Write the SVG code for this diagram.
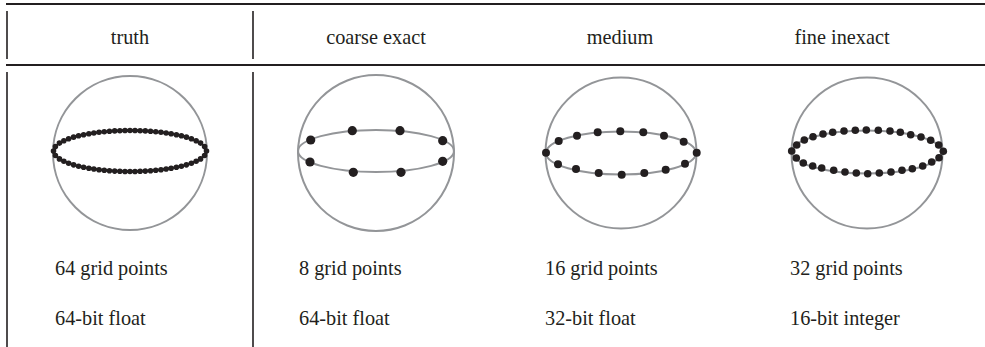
<svg xmlns="http://www.w3.org/2000/svg" width="985" height="347" viewBox="0 0 985 347">
<style>
.rule{stroke:#231f20;stroke-width:2.2;fill:none}
.vr{stroke:#231f20;stroke-width:1.6;fill:none}
.sph{fill:none;stroke:#939598;stroke-width:2}
.eq{fill:none;stroke:#939598;stroke-width:2}
.lbl{font-family:"Liberation Serif","Times New Roman",serif;font-size:20.3px;fill:#231f20}
.hd{text-anchor:middle}
.dot{fill:#231f20}
</style>
<rect width="985" height="347" fill="#ffffff"/>
<g id="table-lines">
<line class="rule" x1="6" y1="4" x2="985" y2="4"/>
<line class="rule" x1="6" y1="65" x2="985" y2="65"/>
<line class="vr" x1="7" y1="11" x2="7" y2="59"/>
<line class="vr" x1="7" y1="72" x2="7" y2="347"/>
<line class="vr" x1="253" y1="11" x2="253" y2="59"/>
<line class="vr" x1="253" y1="72" x2="253" y2="347"/>
</g>
<g id="headers">
<text class="lbl hd" x="130" y="44">truth</text>
<text class="lbl hd" x="376" y="44">coarse exact</text>
<text class="lbl hd" x="620" y="44">medium</text>
<text class="lbl hd" x="842" y="44">fine inexact</text>
</g>
<g id="truth">
<circle class="sph" cx="130" cy="153" r="77"/>
<ellipse cx="130" cy="151" rx="76.5" ry="20.5" fill="none" stroke="#231f20" stroke-width="5.6" stroke-linecap="round" pathLength="64" stroke-dasharray="0 1"/>
<text class="lbl" x="55" y="275">64 grid points</text>
<text class="lbl" x="55" y="325">64-bit float</text>
</g>
<g id="coarse-exact">
<circle class="sph" cx="376" cy="153" r="78"/>
<ellipse class="eq" cx="376" cy="151" rx="78" ry="21"/>
<circle class="dot" cx="310.7" cy="140" r="4.6"/>
<circle class="dot" cx="352.3" cy="130.7" r="4.6"/>
<circle class="dot" cx="400" cy="130.7" r="4.6"/>
<circle class="dot" cx="442.7" cy="140.7" r="4.6"/>
<circle class="dot" cx="310" cy="162" r="4.6"/>
<circle class="dot" cx="353.3" cy="172.3" r="4.6"/>
<circle class="dot" cx="401" cy="172.3" r="4.6"/>
<circle class="dot" cx="442.7" cy="161.3" r="4.6"/>
<text class="lbl" x="299" y="275">8 grid points</text>
<text class="lbl" x="299" y="325">64-bit float</text>
</g>
<g id="medium">
<circle class="sph" cx="621" cy="153" r="75.5"/>
<ellipse class="eq" cx="621" cy="153" rx="75" ry="21.5"/>
<circle class="dot" cx="546" cy="152.7" r="4"/>
<circle class="dot" cx="558.7" cy="141" r="4"/>
<circle class="dot" cx="577" cy="135.7" r="4"/>
<circle class="dot" cx="597.7" cy="132.3" r="4"/>
<circle class="dot" cx="620.3" cy="131.3" r="4"/>
<circle class="dot" cx="643.3" cy="132.3" r="4"/>
<circle class="dot" cx="664" cy="135.7" r="4"/>
<circle class="dot" cx="683.7" cy="141.7" r="4"/>
<circle class="dot" cx="696.7" cy="152.7" r="4"/>
<circle class="dot" cx="685" cy="163.7" r="4"/>
<circle class="dot" cx="665.7" cy="169.7" r="4"/>
<circle class="dot" cx="644.3" cy="173" r="4"/>
<circle class="dot" cx="621.7" cy="174.7" r="4"/>
<circle class="dot" cx="598.7" cy="173" r="4"/>
<circle class="dot" cx="576" cy="169" r="4"/>
<circle class="dot" cx="558" cy="164.3" r="4"/>
<text class="lbl" x="545" y="275">16 grid points</text>
<text class="lbl" x="545" y="325">32-bit float</text>
</g>
<g id="fine-inexact">
<circle class="sph" cx="867" cy="153" r="75.5"/>
<ellipse class="eq" cx="867" cy="152" rx="75" ry="21.5"/>
<circle class="dot" cx="791.7" cy="151" r="3.8"/>
<circle class="dot" cx="796.7" cy="145" r="3.8"/>
<circle class="dot" cx="804.3" cy="140" r="3.8"/>
<circle class="dot" cx="813" cy="136.7" r="3.8"/>
<circle class="dot" cx="823" cy="134" r="3.8"/>
<circle class="dot" cx="832.7" cy="132.3" r="3.8"/>
<circle class="dot" cx="844" cy="131" r="3.8"/>
<circle class="dot" cx="855.3" cy="130.3" r="3.8"/>
<circle class="dot" cx="866.3" cy="130" r="3.8"/>
<circle class="dot" cx="878.3" cy="130.3" r="3.8"/>
<circle class="dot" cx="890" cy="131" r="3.8"/>
<circle class="dot" cx="900.3" cy="132.3" r="3.8"/>
<circle class="dot" cx="910.7" cy="134.7" r="3.8"/>
<circle class="dot" cx="921" cy="137" r="3.8"/>
<circle class="dot" cx="930.7" cy="140.3" r="3.8"/>
<circle class="dot" cx="938.7" cy="145" r="3.8"/>
<circle class="dot" cx="943.3" cy="151.3" r="3.8"/>
<circle class="dot" cx="939" cy="157.7" r="3.8"/>
<circle class="dot" cx="931.7" cy="162" r="3.8"/>
<circle class="dot" cx="922.7" cy="166" r="3.8"/>
<circle class="dot" cx="912.3" cy="168.7" r="3.8"/>
<circle class="dot" cx="902" cy="170.3" r="3.8"/>
<circle class="dot" cx="891" cy="172" r="3.8"/>
<circle class="dot" cx="879.3" cy="173" r="3.8"/>
<circle class="dot" cx="867.7" cy="173.7" r="3.8"/>
<circle class="dot" cx="856.3" cy="173" r="3.8"/>
<circle class="dot" cx="845" cy="172" r="3.8"/>
<circle class="dot" cx="833.7" cy="170.3" r="3.8"/>
<circle class="dot" cx="821.7" cy="168" r="3.8"/>
<circle class="dot" cx="812.7" cy="166" r="3.8"/>
<circle class="dot" cx="803.3" cy="163" r="3.8"/>
<circle class="dot" cx="796.3" cy="158" r="3.8"/>
<text class="lbl" x="790" y="275">32 grid points</text>
<text class="lbl" x="790" y="325">16-bit integer</text>
</g>
</svg>
